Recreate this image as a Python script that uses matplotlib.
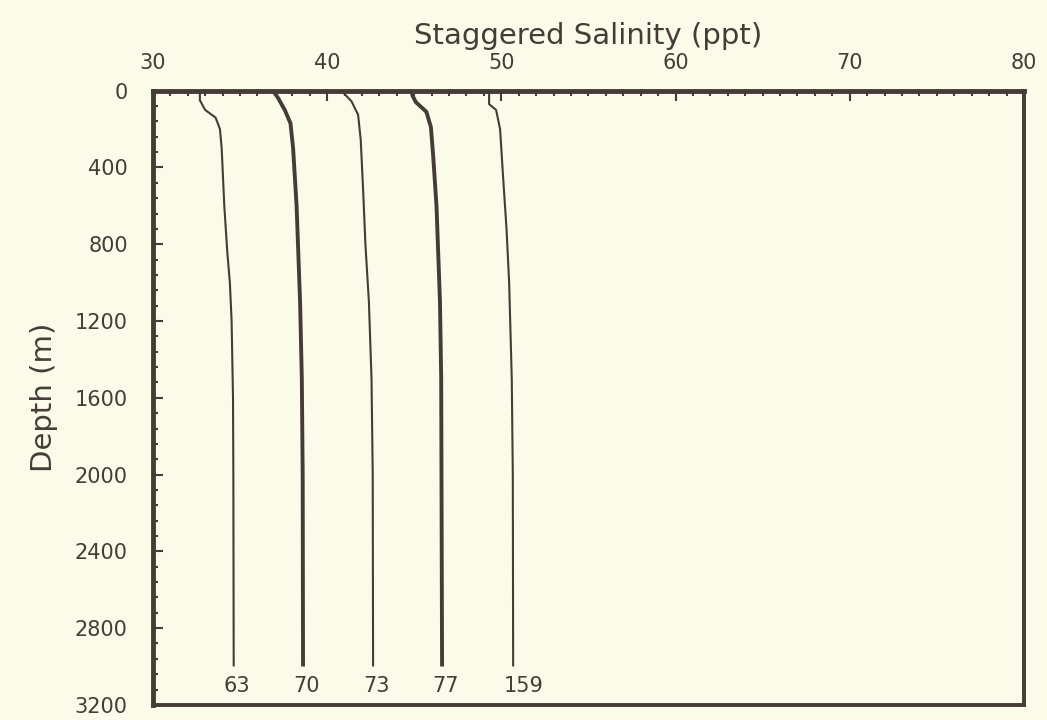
import matplotlib
matplotlib.use('Agg')
import matplotlib.pyplot as plt
from matplotlib.ticker import MultipleLocator

plt.rcParams['font.family'] = ['DejaVu Sans']

# 各剖面数据：深度 (m) 与错位盐度 (ppt)
depth_63 = [0, 50, 100, 140, 200, 300, 600, 850, 1000, 1200, 1600, 2000, 3000]
sal_63 = [32.7, 32.7, 33.0, 33.6, 33.85, 33.95, 34.1, 34.28, 34.42, 34.52, 34.6, 34.62, 34.64]

depth_70 = [0, 40, 100, 170, 300, 600, 1100, 1500, 2000, 3000]
sal_70 = [36.9, 37.2, 37.57, 37.9, 38.05, 38.25, 38.45, 38.55, 38.6, 38.62]

depth_73 = [0, 55, 125, 255, 520, 800, 1100, 1500, 2000, 3000]
sal_73 = [40.82, 41.4, 41.78, 41.93, 42.07, 42.2, 42.4, 42.55, 42.62, 42.64]

depth_77 = [0, 25, 60, 110, 190, 340, 600, 1100, 1500, 3000]
sal_77 = [44.85, 44.9, 45.1, 45.7, 45.96, 46.09, 46.28, 46.48, 46.55, 46.6]

depth_159 = [0, 70, 100, 200, 460, 720, 1000, 1500, 2000, 3000]
sal_159 = [49.3, 49.3, 49.7, 49.93, 50.11, 50.3, 50.45, 50.6, 50.66, 50.68]

stations = ['63', '70', '73', '77', '159']
depths = [depth_63, depth_70, depth_73, depth_77, depth_159]
salinities = [sal_63, sal_70, sal_73, sal_77, sal_159]
widths = [1.5, 2.8, 1.5, 2.8, 1.5]

bg = '#fbfbea'
ink = '#453c38'

fig = plt.figure(figsize=(10.47, 7.2), dpi=100, facecolor=bg)
ax = fig.add_axes([0.146, 0.021, 0.832, 0.853], facecolor=bg)

for name, d, s, lw in zip(stations, depths, salinities, widths):
    ax.plot(s, d, color=ink, linewidth=lw, solid_capstyle='butt')
    ax.annotate(name, (s[-1], d[-1]), textcoords='offset points',
                xytext=(-7, -7), ha='left', va='top', fontsize=15, color=ink)

ax.set_xlim(30, 80)
ax.set_ylim(3200, 0)

ax.xaxis.tick_top()
ax.xaxis.set_label_position('top')
ax.xaxis.set_major_locator(MultipleLocator(10))
ax.xaxis.set_minor_locator(MultipleLocator(1))
ax.yaxis.set_major_locator(MultipleLocator(400))
ax.yaxis.set_minor_locator(MultipleLocator(80))

ax.tick_params(which='major', direction='in', length=7.5, width=1.5, color=ink,
               labelsize=15, labelcolor=ink)
ax.tick_params(which='minor', direction='in', length=3.5, width=1.5, color=ink)
ax.tick_params(axis='x', which='both', top=True, bottom=False, pad=13)
ax.tick_params(axis='y', which='both', left=True, right=False, pad=18)

for side in ['left', 'top']:
    ax.spines[side].set_linewidth(3.5)
for side in ['right', 'bottom']:
    ax.spines[side].set_linewidth(2.8)
for sp in ax.spines.values():
    sp.set_color(ink)

ax.set_xlabel('Staggered Salinity (ppt)', fontsize=21, color=ink, labelpad=6)
ax.set_ylabel('Depth (m)', fontsize=21, color=ink, labelpad=12)

fig.savefig('out.png', dpi=100, facecolor=bg)
